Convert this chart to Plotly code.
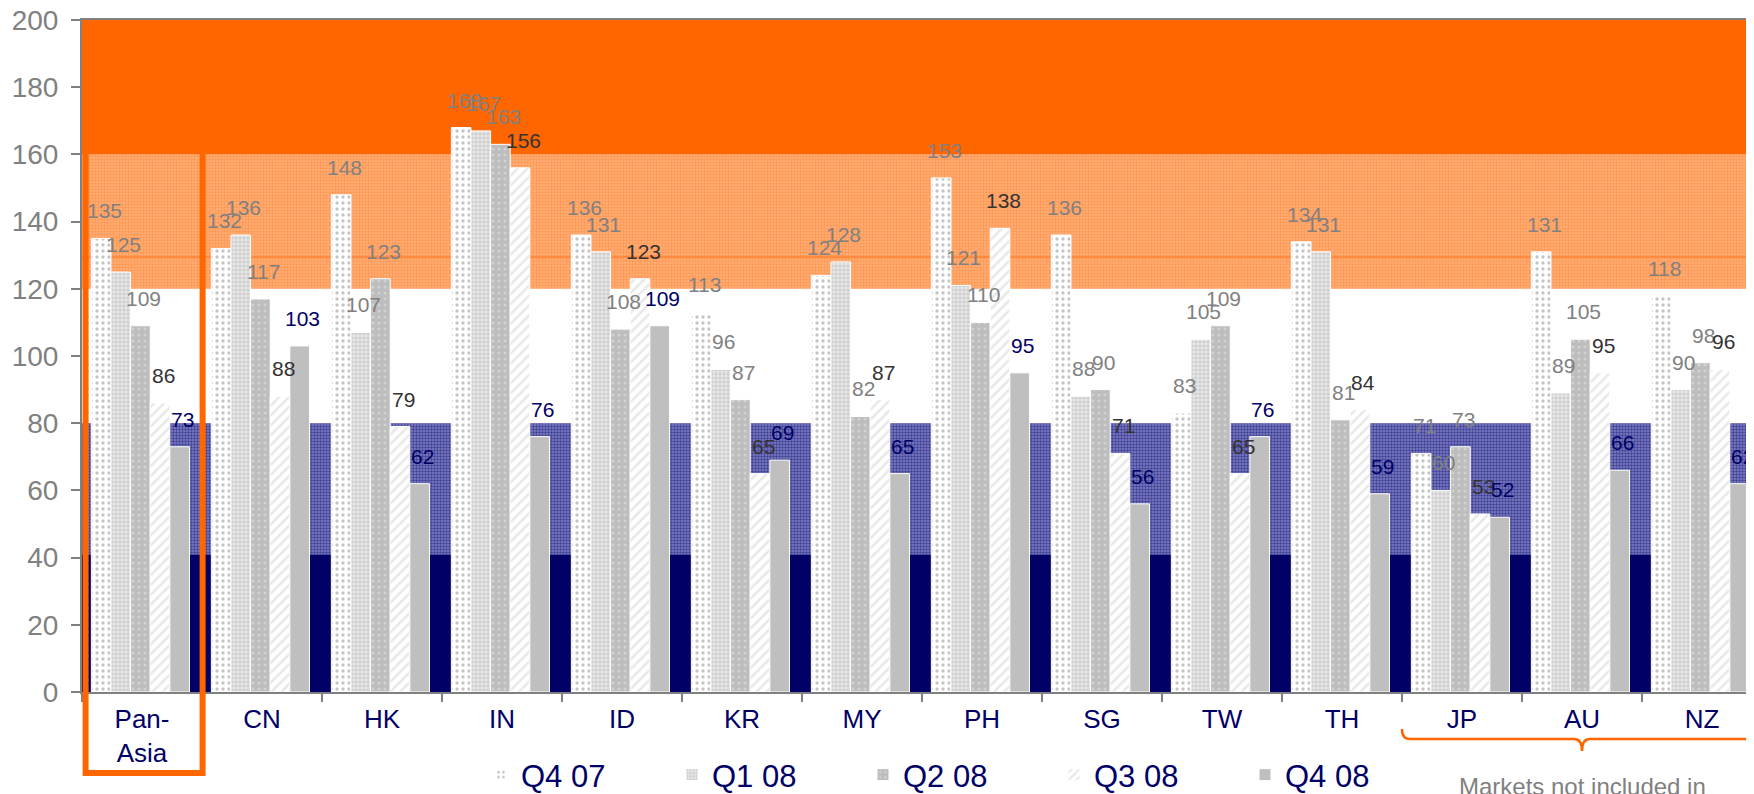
import plotly.graph_objects as go

# ---------------- data ----------------
categories = ["Pan-<br>Asia", "CN", "HK", "IN", "ID", "KR", "MY", "PH", "SG", "TW", "TH", "JP", "AU", "NZ"]
series_names = ["Q4 07", "Q1 08", "Q2 08", "Q3 08", "Q4 08"]
q4_07 = [135, 132, 148, 168, 136, 113, 124, 153, 136, 83, 134, 71, 131, 118]
q1_08 = [125, 136, 107, 167, 131, 96, 128, 121, 88, 105, 131, 60, 89, 90]
q2_08 = [109, 117, 123, 163, 108, 87, 82, 110, 90, 109, 81, 73, 105, 98]
q3_08 = [86, 88, 79, 156, 123, 65, 87, 138, 71, 65, 84, 53, 95, 96]
q4_08 = [73, 103, 62, 76, 109, 69, 65, 95, 56, 76, 59, 52, 66, 62]
series_values = [q4_07, q1_08, q2_08, q3_08, q4_08]
band_edges = [0, 41, 80, 120, 160, 200]
band_line = [129.4, 129.7]
y_ticks = [0, 20, 40, 60, 80, 100, 120, 140, 160, 180, 200]
note_text = "Markets not included in"

# ---------------- styles ----------------
NAVY = "#000066"
ORANGE = "#ff6600"
GRAY = "#808080"
FONT = "Liberation Sans, Arial, sans-serif"

band_styles = [
    dict(color=NAVY),
    dict(color="#6a6ab5", pattern=dict(shape=".", fgcolor=NAVY, bgcolor="#8080c4", size=3, solidity=0.5)),
    None,
    dict(color="#ff9e5e", pattern=dict(shape=".", fgcolor="#ff7f2a", bgcolor="#ffb07a", size=3, solidity=0.5)),
    dict(color=ORANGE),
]

series_styles = [
    dict(color="white", pattern=dict(shape=".", fgcolor="#8a8a8a", bgcolor="white", size=6, solidity=0.25)),
    dict(color="white", pattern=dict(shape=".", fgcolor="#b4b4b4", bgcolor="#eaeaea", size=4, solidity=0.6)),
    dict(color="#bfbfbf", pattern=dict(shape=".", fgcolor="#e6e6e6", bgcolor="#bdbdbd", size=6, solidity=0.2)),
    dict(color="white", pattern=dict(shape="/", fgcolor="#d0d0d0", bgcolor="white", size=7, solidity=0.35)),
    dict(color="#bfbfbf"),
]
label_colors = [GRAY, GRAY, GRAY, "#333333", NAVY]

bar_w = 0.1635
group_start = -0.422

# page places the figure 8px from the top-left corner (default body margin)
PAGE_OFF = 8
W, H = 1754, 794
ML, MR, MT, MB = 74, 0, 12, 110
plot_w = W - ML - MR
plot_h = H - MT - MB
x_range = [-0.5, len(categories) - 0.5]


def scr_to_paper_x(sx):
    return (sx - PAGE_OFF - ML) / plot_w


def scr_to_paper_y(sy):
    return (H - MB - (sy - PAGE_OFF)) / plot_h


def idx_to_paper_x(ix):
    return (ix - x_range[0]) / (x_range[1] - x_range[0])


fig = go.Figure()

# background bands
n = len(categories)
for k in range(len(band_edges) - 1):
    st = band_styles[k]
    if st is None:
        continue
    fig.add_trace(go.Bar(
        x=[categories[0]], y=[band_edges[k + 1] - band_edges[k]], base=[band_edges[k]],
        width=n + 1, offset=-0.5, marker=dict(line=dict(width=0), **st),
        showlegend=False, hoverinfo="skip",
    ))
fig.add_trace(go.Bar(
    x=[categories[0]], y=[band_line[1] - band_line[0]], base=[band_line[0]],
    width=n + 1, offset=-0.5, marker=dict(color="#ff8a40", line=dict(width=0)),
    showlegend=False, hoverinfo="skip",
))

# series bars
annotations = []
for i, (name, vals) in enumerate(zip(series_names, series_values)):
    off = group_start + i * bar_w
    fig.add_trace(go.Bar(
        x=categories, y=vals, name=name, width=bar_w, offset=off,
        marker=dict(line=dict(color="white", width=1), **series_styles[i]),
    ))
    for j, v in enumerate(vals):
        annotations.append(dict(
            x=j + off + bar_w / 2, y=v, xref="x", yref="y", text=str(v),
            showarrow=False, yanchor="bottom", yshift=14, xshift=3,
            font=dict(size=21, color=label_colors[i], family=FONT),
        ))

# note under excluded markets
annotations.append(dict(
    x=idx_to_paper_x(12.0), y=scr_to_paper_y(771), xref="paper", yref="paper",
    text=note_text, showarrow=False, xanchor="center", yanchor="top",
    font=dict(size=24, color=GRAY, family=FONT),
))

# Pan-Asia highlight box
shapes = [dict(
    type="rect", xref="x", yref="paper",
    x0=-0.47, x1=0.505, y0=scr_to_paper_y(773), y1=171 / 200,
    line=dict(color=ORANGE, width=6), fillcolor="rgba(0,0,0,0)", layer="above",
)]

# curly brace under JP / AU / NZ
bx0 = idx_to_paper_x(10.5)
bxc = idx_to_paper_x(12.0)
bx1 = idx_to_paper_x(13.5)
yt = scr_to_paper_y(729)
yl = scr_to_paper_y(739)
yp = scr_to_paper_y(751)
r = 8 / plot_w
path = (f"M {bx0},{yt} Q {bx0},{yl} {bx0 + r},{yl} L {bxc - r},{yl} "
        f"Q {bxc},{yl} {bxc},{yp} Q {bxc},{yl} {bxc + r},{yl} "
        f"L {bx1 - r},{yl} Q {bx1},{yl} {bx1},{yt}")
shapes.append(dict(type="path", xref="paper", yref="paper", path=path,
                   line=dict(color=ORANGE, width=2.5)))

fig.update_layout(
    width=W, height=H,
    margin=dict(l=ML, r=MR, t=MT, b=MB, pad=0, autoexpand=False),
    paper_bgcolor="white", plot_bgcolor="white",
    barmode="overlay",
    font=dict(family=FONT),
    showlegend=True,
    legend=dict(
        orientation="h", x=scr_to_paper_x(481), xanchor="left",
        y=scr_to_paper_y(775), yanchor="middle",
        font=dict(size=31, color=NAVY, family=FONT),
        entrywidth=146, entrywidthmode="pixels",
        bgcolor="rgba(0,0,0,0)", traceorder="normal",
    ),
    annotations=annotations,
    shapes=shapes,
    xaxis=dict(
        type="category", range=x_range, showgrid=False, zeroline=False, automargin=False,
        showline=True, linecolor=GRAY, linewidth=2, mirror=True,
        ticks="outside", tickson="boundaries", ticklen=8, tickcolor=GRAY, tickwidth=2,
        ticklabelstandoff=3, ticklabeloverflow="allow",
        tickfont=dict(size=26, color=NAVY, family=FONT),
    ),
    yaxis=dict(
        range=[0, 200], tickvals=y_ticks, showgrid=False, zeroline=False, automargin=False,
        showline=True, linecolor=GRAY, linewidth=2,
        ticks="outside", ticklen=9, tickcolor=GRAY, tickwidth=2,
        ticklabelstandoff=7, ticklabeloverflow="allow",
        tickfont=dict(size=28, color=GRAY, family=FONT),
    ),
)

fig.write_html("out.html")
